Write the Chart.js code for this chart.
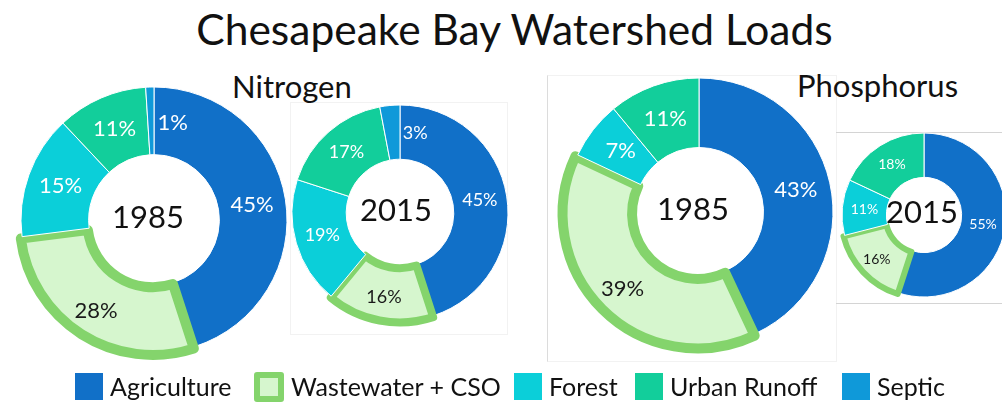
<!DOCTYPE html>
<html>
<head>
<meta charset="utf-8">
<script src="https://cdn.jsdelivr.net/npm/chart.js@4"></script>
<style>
  html, body { margin: 0; padding: 0; background: #fff; }
  body { width: 1002px; height: 405px; position: relative; overflow: hidden; font-family: Lato, sans-serif; color: #111; }
  .txt { position: absolute; white-space: nowrap; line-height: 1; }
  canvas { position: absolute; }
  .frame { position: absolute; box-sizing: border-box; }
  .item { position: absolute; top: 373px; height: 27px; display: flex; align-items: center; font-size: 25px; line-height: 1; white-space: nowrap; }
  .box { width: 28px; height: 27px; margin-right: 7px; box-sizing: border-box; }
</style>
</head>
<body>

<div class="frame" style="left:290px;top:102px;width:218px;height:233px;border:1px solid #f2f2f2;"></div>
<div class="frame" style="left:547px;top:75px;width:290px;height:287px;border:1px solid #f2f2f2;border-left:1px solid #dcdcdc;"></div>
<div class="frame" style="left:836px;top:132px;width:180px;height:172px;border-top:1px solid #d4d4d4;border-bottom:1px solid #d4d4d4;"></div>

<div class="txt" id="title" style="left:0;width:1029px;text-align:center;top:8px;font-size:42.5px;">Chesapeake Bay Watershed Loads</div>
<div class="txt" style="left:232px;top:71px;font-size:31px;">Nitrogen</div>
<div class="txt" style="left:797px;top:70px;font-size:31px;">Phosphorus</div>

<canvas id="n1985"></canvas>
<canvas id="n2015"></canvas>
<canvas id="p1985"></canvas>
<canvas id="p2015"></canvas>

<div id="legend"></div>

<script>
// categories and shares (percent of total load)
const categories = ['Agriculture', 'Wastewater + CSO', 'Forest', 'Urban Runoff', 'Septic'];
const nitrogen1985 = [45, 28, 15, 11, 1];
const nitrogen2015 = [45, 16, 19, 17, 3];
const phosphorus1985 = [43, 39, 7, 11, 0];
const phosphorus2015 = [55, 16, 11, 18, 0];
const years = ['1985', '2015'];

const fillColors = ['#1170C8', '#D6F6CE', '#0BCFD9', '#12CE9B', '#0F99D9'];
const edgeGreen = '#84D46C';
const labelColors = ['#fff', '#1a1a1a', '#fff', '#fff', '#fff'];

// posicion y tamano de cada dona
const charts = [
  { id: 'n1985', data: nitrogen1985, year: years[0], cx: 154, cy: 220, r: 133, cut: 72, off: 9, bw: 10, lbl: 22, dx: -6 },
  { id: 'n2015', data: nitrogen2015, year: years[1], cx: 400, cy: 213, r: 108, cut: 59, off: 5, bw: 8, lbl: 18, dx: -4 },
  { id: 'p1985', data: phosphorus1985, year: years[0], cx: 699, cy: 212, r: 134, cut: 71, off: 9, bw: 10, lbl: 22, dx: -6 },
  { id: 'p2015', data: phosphorus2015, year: years[1], cx: 924, cy: 215, r: 82, cut: 42, off: 5, bw: 6, lbl: 14, dx: -2 }
];

// left edge of each legend entry
const legendLeft = [75, 254, 514, 635, 842];

/**
 * Dibuja los porcentajes y el ano en el centro
 */
var labelsPlugin = {
  id: 'sliceLabels',
  afterDatasetsDraw: function(chart) {
    const ctx = chart.ctx;
    const cfg = chart.options.plugins.sliceLabels;
    const meta = chart.getDatasetMeta(0);
    const values = chart.data.datasets[0].data;
    ctx.save();
    ctx.textBaseline = 'middle';
    ctx.textAlign = 'center';
    meta.data.forEach(function(arc, i) {
      const v = values[i];
      if (!v) return;
      const p = arc.getProps(['x', 'y', 'startAngle', 'endAngle', 'innerRadius', 'outerRadius'], true);
      const off = arc.options.offset || 0;
      let a = (p.startAngle + p.endAngle) / 2;
      if (v < 5) a = p.endAngle + 0.19;
      const rr = (p.innerRadius + p.outerRadius) / 2 + off;
      ctx.fillStyle = labelColors[i];
      ctx.font = cfg.size + 'px Lato';
      ctx.fillText(v + '%', p.x + Math.cos(a) * rr, p.y + Math.sin(a) * rr);
    });
    const c = meta.data[0];
    ctx.fillStyle = '#111';
    ctx.font = '31px Lato';
    ctx.fillText(cfg.year, c.x + cfg.dx, c.y - 2);
    ctx.restore();
  }
};

charts.forEach(function(c) {
  const size = 2 * (c.r + c.off + c.bw + 4);
  const canvas = document.getElementById(c.id);
  canvas.width = size;
  canvas.height = size;
  canvas.style.left = (c.cx - size / 2) + 'px';
  canvas.style.top = (c.cy - size / 2) + 'px';

  new Chart(canvas, {
    type: 'doughnut',
    data: {
      labels: categories,
      datasets: [{
        data: c.data,
        backgroundColor: fillColors,
        borderColor: ['#fff', edgeGreen, '#fff', '#fff', '#fff'],
        borderWidth: [1, c.bw, 1, 1, 1],
        borderJoinStyle: 'round',
        offset: [0, c.off, 0, 0, 0]
      }]
    },
    options: {
      responsive: false,
      animation: false,
      devicePixelRatio: 1,
      events: [],
      radius: c.r,
      cutout: c.cut,
      layout: { padding: 0 },
      plugins: {
        legend: { display: false },
        tooltip: { enabled: false },
        sliceLabels: { size: c.lbl, year: c.year, dx: c.dx }
      }
    },
    plugins: [labelsPlugin]
  });
});

// leyenda
const legend = document.getElementById('legend');
categories.forEach(function(name, i) {
  const item = document.createElement('div');
  item.className = 'item';
  item.style.left = legendLeft[i] + 'px';
  const box = document.createElement('span');
  box.className = 'box';
  box.style.background = fillColors[i];
  if (i === 1) {
    box.style.border = '6px solid ' + edgeGreen;
    box.style.borderRadius = '3px';
    box.style.width = '30px';
    box.style.height = '30px';
  }
  item.appendChild(box);
  item.appendChild(document.createTextNode(name));
  legend.appendChild(item);
});
</script>
</body>
</html>
